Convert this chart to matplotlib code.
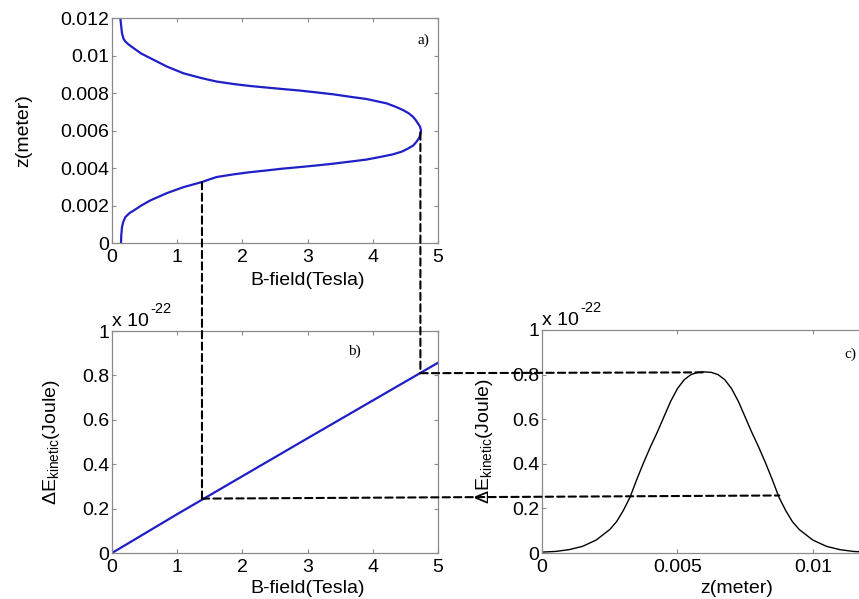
import matplotlib
matplotlib.use("Agg")
import matplotlib.pyplot as plt
from matplotlib.patches import ConnectionPatch
from matplotlib.ticker import FuncFormatter

plt.rcParams['font.family'] = ['Liberation Sans', 'DejaVu Sans']
plt.rcParams['mathtext.default'] = 'regular'
plt.rcParams['font.size'] = 14

# a) B-field along the z axis
z_a = [0, 0.0004, 0.00084, 0.0011, 0.00138, 0.0016, 0.00173, 0.002,
       0.00227, 0.00266, 0.00298, 0.00325, 0.0034, 0.00352, 0.00366,
       0.00377, 0.00387, 0.00396, 0.00405, 0.00414, 0.00423, 0.00434,
       0.00445, 0.00458, 0.00473, 0.00488, 0.00504, 0.0052, 0.00539,
       0.0056, 0.0058, 0.006,
       0.0062, 0.00637, 0.00655, 0.00673, 0.00692, 0.00709, 0.00728,
       0.00745, 0.00768, 0.0078, 0.00793, 0.00803, 0.00813, 0.00821,
       0.00829, 0.00838, 0.00848, 0.00861, 0.0087, 0.00879, 0.00905,
       0.00941, 0.00986, 0.0101, 0.01039, 0.0106, 0.01075, 0.0109,
       0.0112, 0.0116, 0.012]
B_a = [0.138, 0.142, 0.153, 0.17, 0.204, 0.27, 0.332, 0.45,
       0.587, 0.842, 1.097, 1.378, 1.5, 1.607, 1.862,
       2.1, 2.372, 2.6, 2.883, 3.15, 3.393, 3.65,
       3.903, 4.1, 4.311, 4.45, 4.541, 4.62, 4.668,
       4.71, 4.73, 4.74,
       4.725, 4.694, 4.66, 4.617, 4.55, 4.464, 4.34,
       4.209, 3.903, 3.65, 3.393, 3.14, 2.883, 2.62,
       2.372, 2.1, 1.862, 1.607, 1.49, 1.378, 1.097,
       0.842, 0.587, 0.45, 0.332, 0.25, 0.204, 0.175,
       0.153, 0.14, 0.128]

# b) kinetic energy change vs B-field (units of 1e-22 J)
B_b = [0, 1, 2, 3, 4, 5]
E_b = [0, 0.175, 0.346, 0.517, 0.687, 0.857]

# c) kinetic energy change vs z (units of 1e-22 J)
z_c = [0, 0.0005, 0.001, 0.0015, 0.002, 0.0025, 0.00275, 0.003,
       0.00325, 0.0035, 0.00375, 0.004, 0.00425, 0.0045, 0.00475,
       0.005, 0.00525, 0.0055, 0.00575, 0.006,
       0.00625, 0.0065, 0.00675, 0.007, 0.00725, 0.0075, 0.00775,
       0.008, 0.00825, 0.0085, 0.00875, 0.009, 0.00925, 0.0095,
       0.01, 0.0105, 0.011, 0.0115, 0.012]
E_c = [0.004, 0.007, 0.015, 0.03, 0.058, 0.105, 0.14, 0.19,
       0.25, 0.33, 0.405, 0.475, 0.54, 0.61, 0.68,
       0.737, 0.777, 0.8, 0.81, 0.812,
       0.81, 0.8, 0.777, 0.737, 0.68, 0.61, 0.54,
       0.475, 0.405, 0.33, 0.25, 0.19, 0.14, 0.105,
       0.058, 0.03, 0.015, 0.007, 0.004]

# guide points joined by dashed lines
a_low, a_high = (1.38, 0.00325), (4.73, 0.0059)
b_low, b_high = (1.38, 0.245), (4.73, 0.81)
c_low, c_high = (0.00876, 0.258), (0.006, 0.81)

blue = '#1f1fc8'
spine = '#8a8a8a'
W, H = 859, 599

fig = plt.figure(figsize=(W / 100, H / 100), dpi=100)
ax_a = fig.add_axes([112 / W, (H - 243) / H, 326 / W, 225 / H])
ax_b = fig.add_axes([112 / W, (H - 553) / H, 326 / W, 222 / H])
ax_c = fig.add_axes([542 / W, (H - 553) / H, 325 / W, 223 / H])

fmt = FuncFormatter(lambda v, p: '%g' % round(v, 6))


def style(ax):
    for s in ax.spines.values():
        s.set_color(spine)
        s.set_linewidth(0.9)
    ax.tick_params(direction='in', length=3, width=0.8, color=spine,
                   top=True, right=True, labelsize=14)
    ax.tick_params(axis='y', pad=2)
    ax.tick_params(axis='x', pad=4)
    ax.xaxis.set_major_formatter(fmt)
    ax.yaxis.set_major_formatter(fmt)


def multiplier(ax):
    # MATLAB-style "x 10^-22" above the y axis
    t = ax.annotate('x 10', (0, 1), xycoords='axes fraction',
                    xytext=(0, 1), textcoords='offset points',
                    ha='left', va='bottom')
    ax.annotate('-22', (1, 0.8), xycoords=t, xytext=(1, 0),
                textcoords='offset points', ha='left', va='bottom',
                fontsize=10.5)


ax_a.plot(B_a, z_a, color=blue, lw=1.6)
ax_a.set_xlim(0, 5)
ax_a.set_ylim(0, 0.012)
ax_a.set_xticks(range(6))
ax_a.set_yticks([0, 0.002, 0.004, 0.006, 0.008, 0.01, 0.012])
ax_a.set_xlabel('B-field(Tesla)')
ax_a.set_ylabel('z(meter)')
ax_a.xaxis.set_label_coords(0.6, -0.13)
ax_a.yaxis.set_label_coords(-0.245, 0.5)
ax_a.text(4.78, 0.0108, 'a)', family='Liberation Serif', fontsize=11,
          ha='center', va='center')
style(ax_a)

ax_b.plot(B_b, E_b, color=blue, lw=1.6)
ax_b.set_xlim(0, 5)
ax_b.set_ylim(0, 1)
ax_b.set_xticks(range(6))
ax_b.set_yticks([0, 0.2, 0.4, 0.6, 0.8, 1])
ax_b.set_xlabel('B-field(Tesla)')
ax_b.set_ylabel('ΔE$_{kinetic}$(Joule)')
ax_b.xaxis.set_label_coords(0.6, -0.12)
ax_b.yaxis.set_label_coords(-0.153, 0.5)
multiplier(ax_b)
ax_b.text(3.71, 0.91, 'b)', family='Liberation Serif', fontsize=11,
          ha='center', va='center')
style(ax_b)

ax_c.plot(z_c, E_c, color='black', lw=1.0)
ax_c.set_xlim(0, 0.012)
ax_c.set_ylim(0, 1)
ax_c.set_xticks([0, 0.005, 0.01])
ax_c.set_yticks([0, 0.2, 0.4, 0.6, 0.8, 1])
ax_c.set_xlabel('z(meter)')
ax_c.set_ylabel('ΔE$_{kinetic}$(Joule)')
ax_c.xaxis.set_label_coords(0.6, -0.12)
ax_c.yaxis.set_label_coords(-0.145, 0.5)
multiplier(ax_c)
ax_c.text(0.0114, 0.89, 'c)', family='Liberation Serif', fontsize=11,
          ha='center', va='center')
style(ax_c)

# dashed guides between the panels
dash = dict(color='black', lw=1.5, linestyle=(0, (3.5, 2)), zorder=10)
for pa, pb, axA, axB in [(a_low, b_low, ax_a, ax_b),
                         (a_high, b_high, ax_a, ax_b),
                         (b_low, c_low, ax_b, ax_c),
                         (b_high, c_high, ax_b, ax_c)]:
    con = ConnectionPatch(xyA=pa, coordsA=axA.transData,
                          xyB=pb, coordsB=axB.transData, **dash)
    fig.add_artist(con)

fig.savefig('out.png', dpi=100)
